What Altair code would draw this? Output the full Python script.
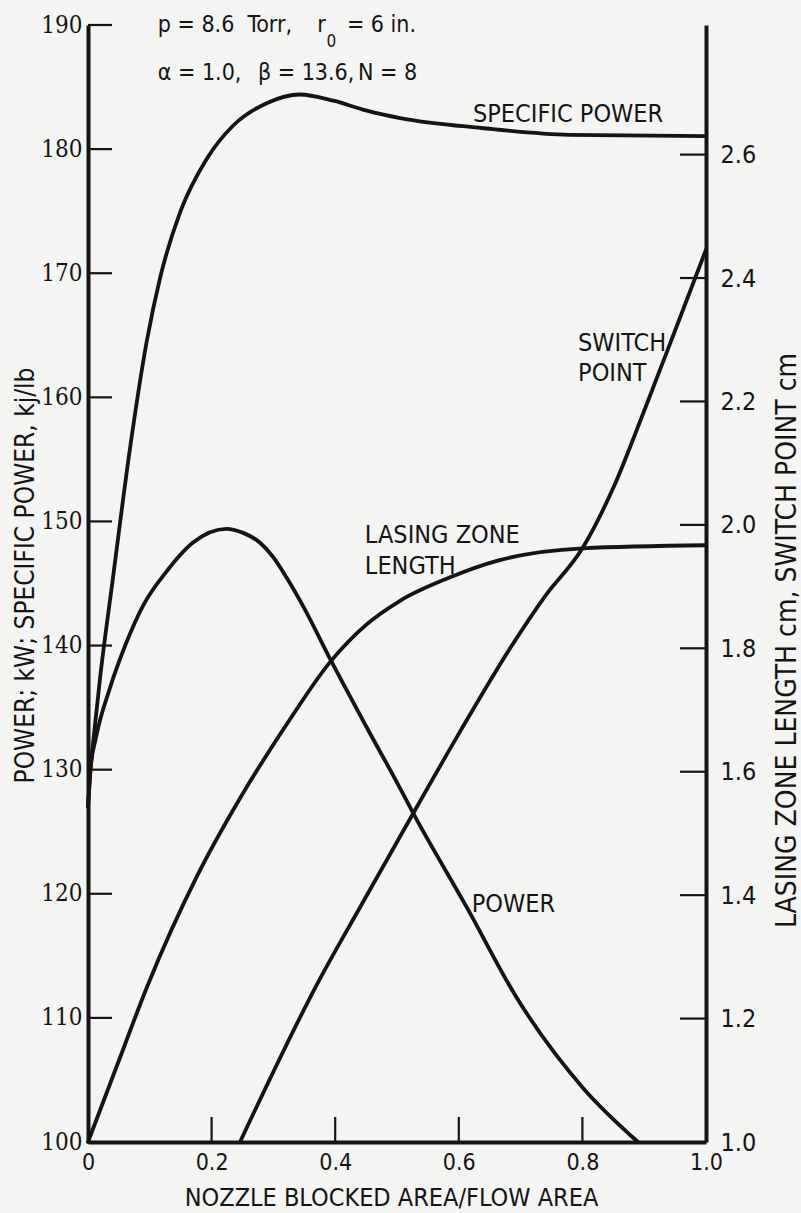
import altair as alt
import pandas as pd

# ---------------- data ----------------
# Specific power, kj/lb (left axis)
sp_x = [0, 0.004, 0.010, 0.020, 0.040, 0.068, 0.095, 0.117, 0.149, 0.192, 0.235, 0.289, 0.343, 0.397, 0.451, 0.505, 0.637, 0.779, 1.0]
sp_y = [127, 130, 133, 137.6, 145.3, 155.9, 164.5, 169.7, 174.9, 179.2, 181.9, 183.7, 184.4, 183.9, 183.1, 182.5, 181.7, 181.15, 181.05]

# Power, kW (left axis)
pw_x = [0, 0.004, 0.013, 0.035, 0.061, 0.090, 0.126, 0.170, 0.224, 0.250, 0.278, 0.300, 0.321, 0.350, 0.392, 0.450, 0.505, 0.524, 0.613, 0.694, 0.802, 0.890]
pw_y = [127, 130, 132.6, 136.5, 140.1, 143.3, 145.9, 148.3, 149.4, 149.1, 148.3, 147.1, 145.5, 143.0, 138.9, 133.5, 128.5, 126.7, 118.9, 111.6, 104.3, 100]

# Lasing zone length, cm (right axis)
lz_x = [0, 0.05, 0.095, 0.176, 0.246, 0.321, 0.392, 0.45, 0.505, 0.586, 0.663, 0.80, 1.0]
lz_y = [1.0, 1.132, 1.25, 1.43, 1.557, 1.676, 1.778, 1.838, 1.877, 1.915, 1.942, 1.962, 1.967]

# Switch point, cm (right axis)
sw_x = [0.246, 0.374, 0.44, 0.505, 0.602, 0.683, 0.74, 0.80, 0.85, 0.90, 0.95, 1.0]
sw_y = [1.0, 1.262, 1.38, 1.495, 1.665, 1.80, 1.885, 1.962, 2.06, 2.185, 2.315, 2.446]

# axis ticks / labels
x_labels = [0, 0.2, 0.4, 0.6, 0.8, 1.0]
x_inner_ticks = [0.2, 0.4, 0.6, 0.8]
left_labels = [100, 110, 120, 130, 140, 150, 160, 170, 180, 190]
left_ticks = [110, 120, 130, 140, 150, 160, 170, 180, 190]
right_labels = [1.0, 1.2, 1.4, 1.6, 1.8, 2.0, 2.2, 2.4, 2.6]
right_ticks = [1.2, 1.4, 1.6, 1.8, 2.0, 2.2, 2.4, 2.6]

# curve labels (anchored in data units, left axis)
curve_text = ["SPECIFIC POWER", "SWITCH", "POINT", "LASING ZONE", "LENGTH", "POWER"]
curve_tx = [0.623, 0.793, 0.793, 0.448, 0.448, 0.621]
curve_ty = [182.2, 163.7, 161.3, 148.3, 145.8, 118.5]

# parameter block
param_text = ["p = 8.6", "Torr,", "r", "= 6 in.", "\u03b1 = 1.0,", "\u03b2 = 13.6,", "N = 8"]
param_tx = [0.113, 0.258, 0.371, 0.419, 0.113, 0.275, 0.437]
param_ty = [189.45, 189.45, 189.45, 189.45, 185.55, 185.55, 185.55]
sub_text = ["0"]
sub_tx = [0.386]
sub_ty = [188.2]

# ---------------- styling ----------------
INK = "#141414"
BG = "#f4f4f2"
SANS = '"DejaVu Sans Condensed", "Liberation Sans Narrow", "DejaVu Sans", sans-serif'
SERIF = '"DejaVu Serif Condensed", "Liberation Serif", serif'
W, H = 618, 1117

x_scale = alt.Scale(domain=[0, 1], nice=False, zero=False)
left_scale = alt.Scale(domain=[100, 190], nice=False, zero=False)
right_scale = alt.Scale(domain=[1.0, 2.81], nice=False, zero=False)

x_axis = alt.Axis(
    values=x_labels, labelExpr="datum.value == 0 ? '0' : format(datum.value, '.1f')",
    ticks=False, grid=False, domainWidth=4, domainColor=INK, labelFlush=False,
    labelFont=SANS, labelFontSize=23, labelColor=INK, labelPadding=9,
    title="NOZZLE BLOCKED AREA/FLOW AREA", titleFont=SANS, titleFontSize=25,
    titleFontWeight="normal", titleColor=INK, titleX=303, titleY=63,
    titleAlign="center", titleBaseline="alphabetic",
)
left_axis = alt.Axis(
    values=left_labels, format="d", ticks=False, grid=False, domainWidth=4,
    domainColor=INK, labelFlush=False, labelFont=SERIF, labelFontSize=24,
    labelColor=INK, labelPadding=6,
    title="POWER; kW; SPECIFIC POWER, kj/lb", titleFont=SANS, titleFontSize=26,
    titleFontWeight="normal", titleColor=INK, titleX=-63, titleY=550,
    titleAngle=270, titleAlign="center", titleBaseline="middle",
)
right_axis = alt.Axis(
    orient="right", values=right_labels, format=".1f", ticks=False, grid=False,
    domainWidth=4, domainColor=INK, labelFlush=False, labelFont=SANS,
    labelFontSize=25, labelColor=INK, labelPadding=14,
    title="LASING ZONE LENGTH cm, SWITCH POINT cm", titleFont=SANS,
    titleFontSize=28, titleFontWeight="normal", titleColor=INK, titleX=81,
    titleY=615, titleAngle=270, titleAlign="center", titleBaseline="middle",
)

X = lambda f: alt.X(f, type="quantitative", scale=x_scale, axis=x_axis)
YL = lambda f: alt.Y(f, type="quantitative", scale=left_scale, axis=left_axis)
YR = lambda f: alt.Y(f, type="quantitative", scale=right_scale, axis=right_axis)


def curve(xs, ys, yenc):
    df = pd.DataFrame({"x": xs, "y": ys})
    return alt.Chart(df).mark_line(
        color=INK, strokeWidth=3.8, interpolate="monotone", strokeCap="round"
    ).encode(x=X("x"), y=yenc("y"))


sp = curve(sp_x, sp_y, YL)
pw = curve(pw_x, pw_y, YL)
lz = curve(lz_x, lz_y, YR)
sw = curve(sw_x, sw_y, YR)

lt = alt.Chart(pd.DataFrame({"v": left_ticks})).mark_rule(color=INK, strokeWidth=2.2).encode(
    x=alt.value(0), x2=alt.value(24), y=YL("v"))
xt = alt.Chart(pd.DataFrame({"v": x_inner_ticks})).mark_rule(color=INK, strokeWidth=2.2).encode(
    x=X("v"), y=alt.value(H), y2=alt.value(H - 25))
rt = alt.Chart(pd.DataFrame({"v": right_ticks})).mark_rule(color=INK, strokeWidth=2.2).encode(
    x=alt.value(W - 26), x2=alt.value(W), y=YR("v"))


def texts(ts, xs, ys, size):
    df = pd.DataFrame({"t": ts, "x": xs, "y": ys})
    return alt.Chart(df).mark_text(
        align="left", baseline="alphabetic", font=SANS, fontSize=size, color=INK
    ).encode(x=X("x"), y=YL("y"), text="t:N")


labels = texts(curve_text, curve_tx, curve_ty, 25)
params = texts(param_text, param_tx, param_ty, 23)
subs = texts(sub_text, sub_tx, sub_ty, 17)

left_group = alt.layer(sp, pw, lt, xt, labels, params, subs)
right_group = alt.layer(lz, sw, rt)

chart = alt.layer(left_group, right_group).resolve_scale(y="independent").properties(
    width=W, height=H,
    padding={"left": 88, "top": 25, "right": 95, "bottom": 71},
    autosize=alt.AutoSizeParams(type="none"),
    background=BG,
).configure_view(stroke=None)

chart.save("out.html", embed_options={"renderer": "svg", "actions": False})
